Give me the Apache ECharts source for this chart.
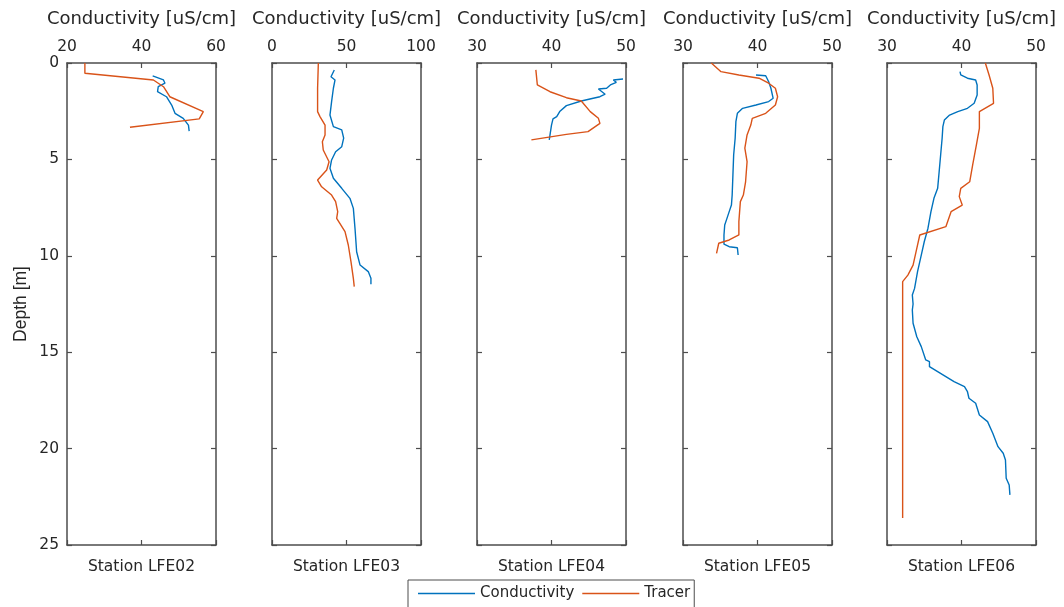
<!DOCTYPE html>
<html><head><meta charset="utf-8">
<script src="https://cdn.jsdelivr.net/npm/echarts@6/dist/echarts.min.js"></script>
<style>html,body{margin:0;padding:0;background:#fff}#c{width:1064px;height:607px}</style>
</head><body><div id="c"></div>
<script>
// Station names and x-axis ranges
const stations = ['Station LFE02','Station LFE03','Station LFE04','Station LFE05','Station LFE06'];
const xMins = [20, 0, 30, 30, 30];
const xMaxs = [60, 100, 50, 50, 50];
const xIntervals = [20, 50, 10, 10, 10];
const depthTicks = [0, 5, 10, 15, 20, 25];

// [conductivity, depth] pairs
const cond02 = [[43.0,0.67],[45.9,0.88],[46.3,1.05],[44.5,1.23],[44.3,1.49],[46.7,1.75],[48.1,2.18],[49.0,2.61],[51.2,2.87],[52.6,3.22],[52.8,3.53]];
const trac02 = [[24.8,0],[24.8,0.53],[43.2,0.88],[45.9,1.23],[47.6,1.75],[56.6,2.52],[55.5,2.9],[36.9,3.33]];

const cond03 = [[41.8,0.36],[39.6,0.71],[42.3,0.88],[41.2,1.31],[40.0,2.0],[38.9,2.7],[41.2,3.3],[46.8,3.47],[48.1,3.9],[46.8,4.34],[42.7,4.6],[40.0,5.03],[38.9,5.46],[41.2,5.98],[46.8,6.5],[52.3,7.02],[54.6,7.54],[55.7,8.57],[56.8,9.79],[59.1,10.48],[64.6,10.82],[66.4,11.17],[66.4,11.48]];
const trac03 = [[31.1,0],[30.6,1.31],[30.6,2.52],[32.2,2.78],[35.6,3.22],[35.6,3.73],[33.8,4.08],[34.4,4.51],[38.3,5.12],[36.7,5.55],[30.6,6.07],[33.3,6.42],[40.0,6.85],[42.7,7.19],[44.1,7.71],[43.4,8.06],[49.0,8.75],[51.2,9.44],[53.0,10.3],[54.6,11.17],[55.2,11.6]];

const cond04 = [[49.6,0.83],[48.3,0.88],[48.7,1.0],[47.9,1.14],[47.4,1.31],[46.3,1.35],[47.2,1.62],[46.5,1.75],[45.6,1.83],[44.0,1.97],[42.0,2.21],[41.1,2.52],[40.7,2.78],[40.2,2.9],[40.0,3.22],[39.8,3.73],[39.7,3.99]];
const trac04 = [[37.9,0.36],[38.1,1.14],[39.8,1.49],[42.0,1.8],[44.0,1.97],[45.2,2.52],[46.3,2.87],[46.5,3.13],[44.9,3.56],[42.0,3.7],[37.3,3.99]];

const cond05 = [[39.8,0.62],[41.1,0.66],[41.5,0.97],[41.8,1.31],[42.1,1.83],[41.5,2.0],[39.8,2.18],[38.0,2.35],[37.3,2.61],[37.1,3.04],[37.0,3.9],[36.8,4.77],[36.7,5.81],[36.6,6.85],[36.5,7.37],[36.2,7.71],[35.9,8.06],[35.6,8.4],[35.5,8.92],[35.5,9.4],[36.2,9.53],[37.3,9.58],[37.4,9.96]];
const trac05 = [[33.8,0],[35.1,0.45],[37.5,0.62],[40.2,0.79],[41.5,1.05],[42.4,1.31],[42.7,1.75],[42.4,2.18],[41.1,2.61],[39.3,2.87],[39.1,3.22],[38.6,3.73],[38.3,4.42],[38.6,5.12],[38.4,6.16],[38.1,6.85],[37.7,7.19],[37.5,8.23],[37.5,8.92],[36.2,9.18],[34.8,9.35],[34.5,9.87]];

const cond06 = [[39.8,0.45],[39.9,0.62],[40.8,0.79],[41.9,0.88],[42.1,1.14],[42.1,1.66],[41.7,2.09],[40.8,2.35],[39.5,2.52],[38.4,2.7],[37.7,2.96],[37.5,3.3],[37.4,3.9],[37.2,4.77],[37.0,5.64],[36.8,6.5],[36.3,7.02],[35.9,7.71],[35.5,8.57],[35.0,9.27],[34.6,9.96],[34.1,10.82],[33.7,11.69],[33.4,12.03],[33.5,12.5],[33.4,12.81],[33.5,13.5],[34.0,14.2],[34.6,14.71],[35.2,15.4],[35.7,15.49],[35.7,15.75],[36.8,16.01],[37.9,16.27],[39.0,16.53],[40.4,16.79],[40.8,17.05],[41.0,17.39],[41.9,17.65],[42.4,18.26],[43.5,18.6],[44.2,19.2],[44.9,19.9],[45.6,20.24],[45.9,20.59],[46.0,21.54],[46.4,21.89],[46.5,22.4]];
const trac06 = [[43.2,0],[43.7,0.62],[44.2,1.31],[44.3,2.09],[42.4,2.52],[42.4,3.39],[42.0,4.25],[41.5,5.29],[41.1,6.16],[39.9,6.5],[39.7,6.93],[40.1,7.37],[38.6,7.71],[37.9,8.49],[34.4,8.92],[34.0,9.61],[33.5,10.48],[32.8,11.0],[32.1,11.34],[32.1,13.07],[32.1,23.6]];

const condSeries = [cond02, cond03, cond04, cond05, cond06];
const tracSeries = [trac02, trac03, trac04, trac05, trac06];

const FONT = '"DejaVu Sans", "Liberation Sans", Arial, sans-serif';
const FONT2 = '"Liberation Sans", Arial, sans-serif';
const TXT = '#262626';
const AX = '#4d4d4d';
const gridLefts = [67, 272, 477, 683, 887];

const grid = [], xAxis = [], yAxis = [], series = [];
for (let i = 0; i < 5; i++) {
  grid.push({left: gridLefts[i], top: 63, width: 149, height: 482, containLabel: false});
  const common = {
    type: 'value', min: xMins[i], max: xMaxs[i], interval: xIntervals[i], gridIndex: i,
    axisLine: {show: true, onZero: false, lineStyle: {color: AX, width: 1.5}},
    axisTick: {show: true, inside: true, length: 5, lineStyle: {color: AX, width: 1.2}},
    splitLine: {show: false}
  };
  xAxis.push(Object.assign({}, common, {
    position: 'top',
    name: 'Conductivity [uS/cm]', nameLocation: 'middle', nameGap: 35,
    nameTextStyle: {fontFamily: FONT, fontSize: 18, color: TXT},
    axisLabel: {show: true, margin: 8, fontFamily: FONT, fontSize: 15.5, color: TXT}
  }));
  xAxis.push(Object.assign({}, common, {
    position: 'bottom',
    name: stations[i], nameLocation: 'middle', nameGap: 14,
    nameTextStyle: {fontFamily: FONT, fontSize: 15.5, color: TXT, verticalAlign: 'top'},
    axisLabel: {show: false}
  }));
  const ycommon = {
    type: 'value', inverse: true, min: 0, max: 25, interval: 5, gridIndex: i,
    axisLine: {show: true, onZero: false, lineStyle: {color: AX, width: 1.5}},
    axisTick: {show: true, inside: true, length: 5, lineStyle: {color: AX, width: 1.2}},
    splitLine: {show: false}
  };
  yAxis.push(Object.assign({}, ycommon, {
    position: 'left',
    name: i === 0 ? 'Depth [m]' : '', nameLocation: 'middle', nameGap: 37,
    nameTextStyle: {fontFamily: FONT2, fontSize: 17.5, color: TXT},
    axisLabel: {show: i === 0, margin: 8, fontFamily: FONT, fontSize: 15.5, color: TXT}
  }));
  yAxis.push(Object.assign({}, ycommon, {position: 'right', axisLabel: {show: false}}));
  series.push({
    name: 'Conductivity', type: 'line', xAxisIndex: 2*i, yAxisIndex: 2*i,
    data: condSeries[i], showSymbol: false, symbol: 'none', animation: false,
    lineStyle: {color: '#0072BD', width: 1.4}, itemStyle: {color: '#0072BD'}
  });
  series.push({
    name: 'Tracer', type: 'line', xAxisIndex: 2*i, yAxisIndex: 2*i,
    data: tracSeries[i], showSymbol: false, symbol: 'none', animation: false,
    lineStyle: {color: '#D95319', width: 1.4}, itemStyle: {color: '#D95319'}
  });
}

const chart = echarts.init(document.getElementById('c'), null, {renderer: 'canvas'});
chart.setOption({
  animation: false,
  backgroundColor: '#fff',
  grid, xAxis, yAxis, series,
  legend: {
    data: ['Conductivity', 'Tracer'],
    left: 408, top: 580,
    icon: 'rect', itemWidth: 57, itemHeight: 1.5, itemGap: 8,
    borderColor: '#4d4d4d', borderWidth: 1, borderRadius: 0,
    padding: [6, 4, 10, 10],
    textStyle: {fontFamily: FONT, fontSize: 15, color: TXT}
  }
});
</script></body></html>
